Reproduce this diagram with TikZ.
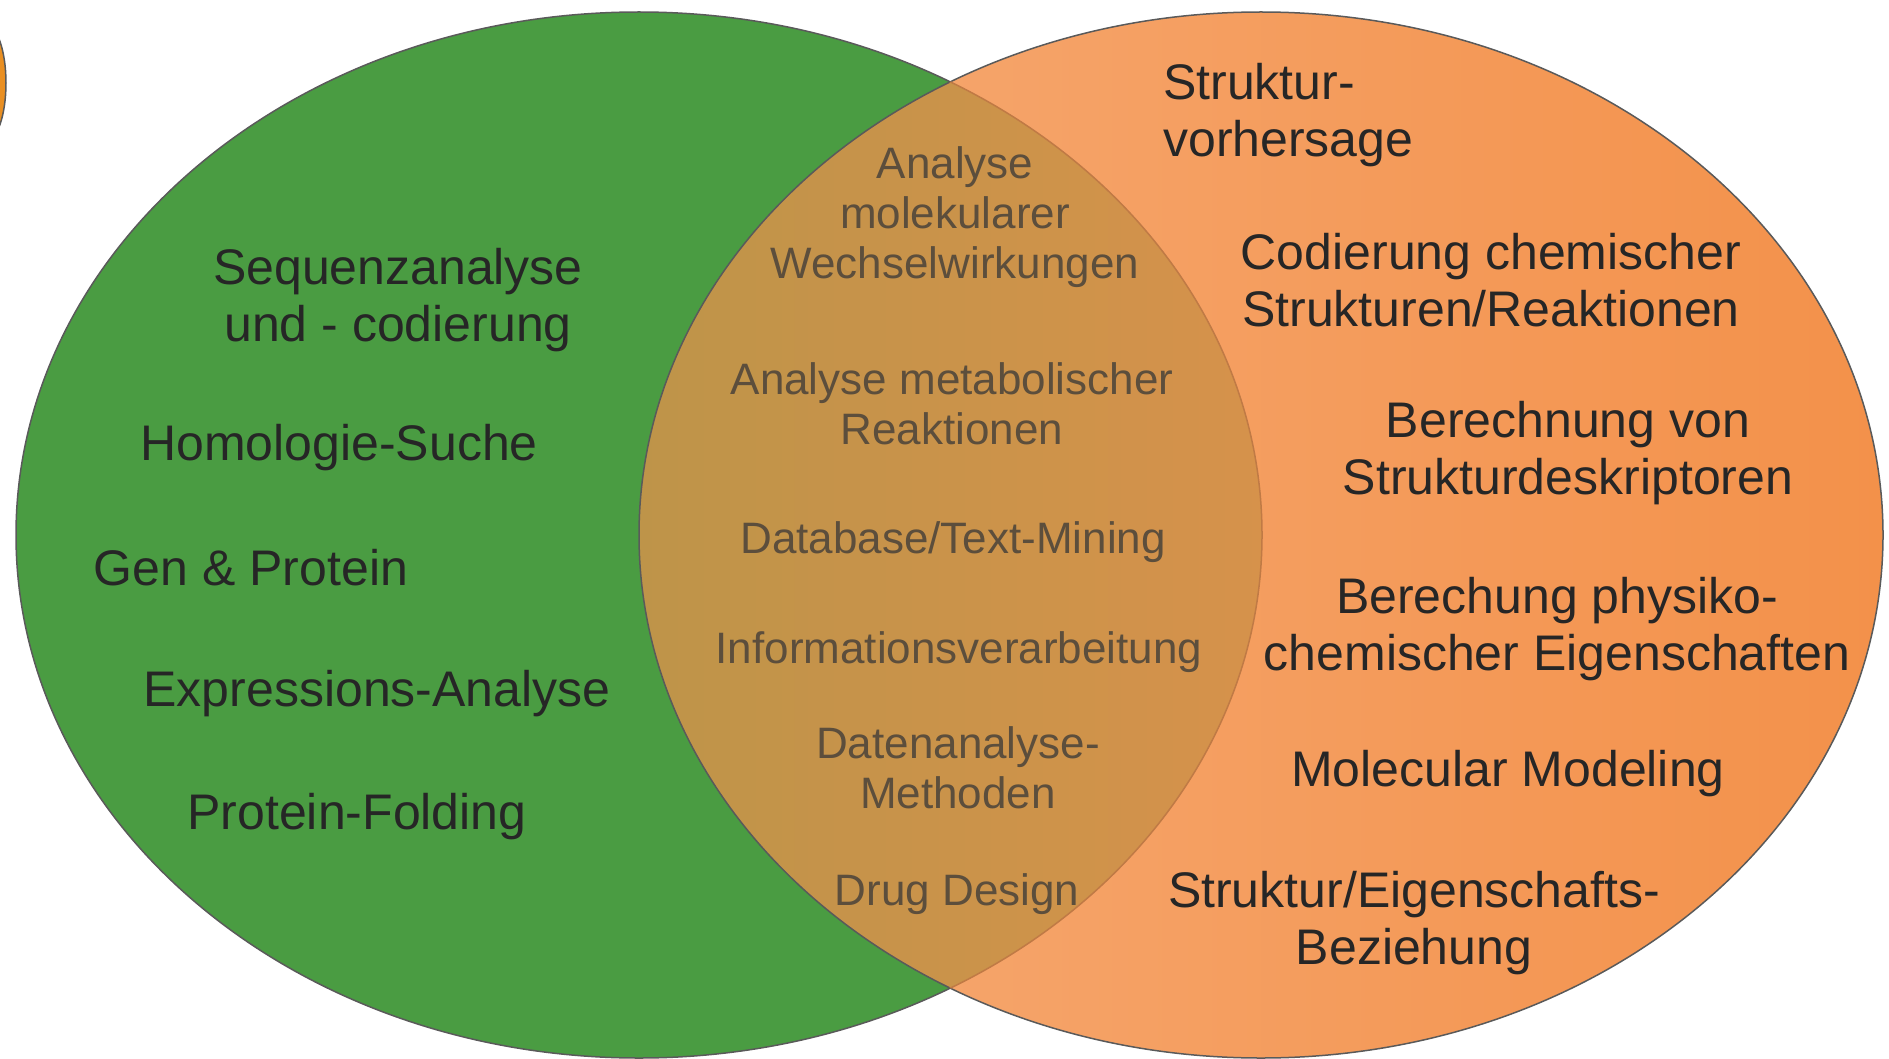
\documentclass[tikz,border=0pt]{standalone}
\usepackage{fontspec}
\setmainfont{Liberation Sans}
\usepackage{tikz}
\definecolor{biogreen}{HTML}{4A9C42}
\definecolor{chemlight}{HTML}{F6AA74}
\definecolor{chemdark}{HTML}{F3914A}
\definecolor{mixlight}{HTML}{BE9449}
\definecolor{mixdark}{HTML}{D6924B}
\definecolor{rim}{HTML}{5A5A5A}
\definecolor{arcbrown}{HTML}{C07A45}
\definecolor{sharedtext}{HTML}{5C4E3C}
\definecolor{sliver}{HTML}{E98F22}
\tikzstyle{field} = [font=\fontsize{50}{57.5}\selectfont, text=black!85, align=center, inner sep=0pt]
\tikzstyle{shared} = [font=\fontsize{44}{50}\selectfont, text=sharedtext, align=center, inner sep=0pt]
\tikzstyle{outline} = [draw=rim, line width=1.5]

\begin{document}
\begin{tikzpicture}[x=1pt, y=-1pt]
\useasboundingbox (0,0) rectangle (1889,1059);
% piece of the neighbouring figure at the left edge
\filldraw[fill=sliver, outline] (-14,83) ellipse [x radius=20, y radius=58];
% bioinformatics
\filldraw[fill=biogreen, outline] (639,535) ellipse [x radius=623, y radius=523];
% chemoinformatics
\fill[left color=chemlight, right color=chemdark] (1261,535) ellipse [x radius=622, y radius=523];
% common part
\begin{scope}
\clip (639,535) ellipse [x radius=623, y radius=523];
\clip (1261,535) ellipse [x radius=622, y radius=523];
\fill[left color=mixlight, right color=mixdark] (638,0) rectangle (1264,1059);
\end{scope}
\draw[outline] (1261,535) ellipse [x radius=622, y radius=523];
\begin{scope}
\clip (1261,535) ellipse [x radius=622, y radius=523];
\draw[arcbrown, line width=1.5] (639,535) ellipse [x radius=623, y radius=523];
\end{scope}

% left side
\node (seq) [field] at (398,300) {Sequenzanalyse\\und - codierung};
\node (homol) [field] at (339,448) {Homologie-Suche};
\node (genprot) [field] at (251,568) {Gen \& Protein};
\node (expr) [field] at (377,694) {Expressions-Analyse};
\node (fold) [field] at (357,817) {Protein-Folding};

% middle
\node (molww) [shared] at (955,217) {Analyse\\molekularer\\Wechselwirkungen};
\node (metab) [shared] at (952,404) {Analyse metabolischer\\Reaktionen};
\node (textmining) [shared] at (953,542) {Database/Text-Mining};
\node (infoproc) [shared] at (959,652) {Informationsverarbeitung};
\node (datamethods) [shared] at (958,768) {Datenanalyse-\\Methoden};
\node (drugdesign) [shared] at (957,894) {Drug Design};

% right side
\node (structpred) [field, anchor=west, align=left] at (1163,115) {Struktur-\\vorhersage};
\node (coding) [field] at (1491,280) {Codierung chemischer\\Strukturen/Reaktionen};
\node (descriptors) [field] at (1568,453) {Berechnung von\\Strukturdeskriptoren};
\node (physchem) [field] at (1557,629) {Berechung physiko-\\chemischer Eigenschaften};
\node (modeling) [field] at (1508,774) {Molecular Modeling};
\node (qspr) [field] at (1414,923) {Struktur/Eigenschafts-\\Beziehung};
\end{tikzpicture}
\end{document}
